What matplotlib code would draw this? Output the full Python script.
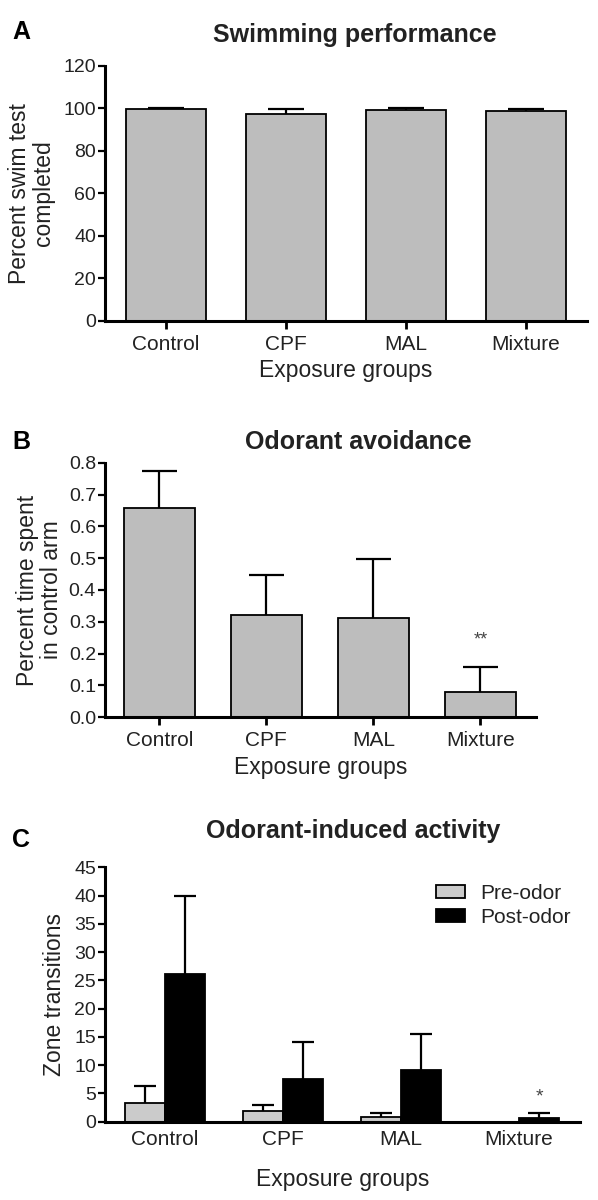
import matplotlib
matplotlib.use("Agg")
import matplotlib.pyplot as plt
import numpy as np

plt.rcParams["font.family"] = ["Liberation Sans", "DejaVu Sans"]

groups = ["Control", "CPF", "MAL", "Mixture"]

# A: swimming performance
swim_mean = [99.7, 97.5, 99.3, 98.9]
swim_err = [0.2, 2.2, 0.6, 0.6]

# B: odorant avoidance
avoid_mean = [0.659, 0.321, 0.313, 0.080]
avoid_err = [0.116, 0.127, 0.183, 0.079]

# C: odorant-induced activity
pre_mean = [3.3, 1.9, 0.8, 0.0]
pre_err = [3.0, 1.1, 0.7, np.nan]
post_mean = [26.2, 7.6, 9.1, 0.7]
post_err = [13.8, 6.5, 6.5, 0.8]

W, H = 598, 1200
TEXT = "#222222"
BAR_GREY = "#bdbdbd"
PRE_GREY = "#cbcbcb"

fig = plt.figure(figsize=(W / 100, H / 100), dpi=100)


def px_axes(left, right, top, bottom):
    return fig.add_axes([left / W, 1 - bottom / H, (right - left) / W, (bottom - top) / H])


def style(ax, xtick_len=6):
    for s in ("top", "right"):
        ax.spines[s].set_visible(False)
    for s in ("left", "bottom"):
        ax.spines[s].set_linewidth(2.2)
    ax.tick_params(axis="y", length=5, width=1.6, pad=1.5, labelsize=14, labelcolor=TEXT)
    ax.tick_params(axis="x", length=xtick_len, width=2.0, pad=4, labelsize=15, labelcolor=TEXT)


def upper_err(ax, x, mean, err, capsize):
    # upper half only, like the usual SEM bars
    err = np.asarray(err, dtype=float)
    _, caps, _ = ax.errorbar(x, mean, yerr=[np.zeros_like(err), err], fmt="none", ecolor="black",
                             elinewidth=1.6, capsize=capsize, capthick=1.6, zorder=3)
    caps[0].set_visible(False)


x = np.arange(len(groups))

# ---- panel A
ax = px_axes(105, 587, 65.7, 320.7)
ax.bar(x, swim_mean, width=0.667, color=BAR_GREY, edgecolor="black", linewidth=1.3, zorder=2)
upper_err(ax, x, swim_mean, swim_err, 13)
ax.set_xlim(-0.51, 3.51)
ax.set_ylim(0, 120)
ax.set_yticks(np.arange(0, 121, 20))
ax.set_xticks(x, groups)
style(ax)
ax.set_xlabel("Exposure groups", fontsize=16.5, color=TEXT, labelpad=4)
ax.set_ylabel("Percent swim test\ncompleted", fontsize=16.5, color=TEXT, linespacing=1.05)
ax.yaxis.set_label_coords(-0.104, 0.5)
fig.text(355 / W, 1 - 35 / H, "Swimming performance", ha="center", va="center",
         fontsize=18, fontweight="bold", color=TEXT)
fig.text(21 / W, 1 - 32 / H, "A", ha="center", va="center", fontsize=18,
         fontweight="bold", color="black")

# ---- panel B
ax = px_axes(105, 536, 462.7, 717.3)
ax.bar(x, avoid_mean, width=0.667, color=BAR_GREY, edgecolor="black", linewidth=1.3, zorder=2)
upper_err(ax, x, avoid_mean, avoid_err, 12.6)
ax.set_xlim(-0.508, 3.52)
ax.set_ylim(0, 0.8)
ax.set_yticks(np.arange(0, 0.81, 0.1))
ax.set_yticklabels([f"{v:.1f}" for v in np.arange(0, 0.81, 0.1)])
ax.set_xticks(x, groups)
style(ax)
ax.text(3, 0.243, "**", ha="center", va="center", fontsize=13, color="#444444")
ax.set_xlabel("Exposure groups", fontsize=16.5, color=TEXT, labelpad=4)
ax.set_ylabel("Percent time spent\nin control arm", fontsize=16.5, color=TEXT, linespacing=1.05)
ax.yaxis.set_label_coords(-0.097, 0.5)
fig.text(358 / W, 1 - 442 / H, "Odorant avoidance", ha="center", va="center",
         fontsize=18, fontweight="bold", color=TEXT)
fig.text(21 / W, 1 - 442 / H, "B", ha="center", va="center", fontsize=18,
         fontweight="bold", color="black")

# ---- panel C
ax = px_axes(105, 580, 867.3, 1121.7)
bw = 0.339
ax.bar(x - bw / 2, pre_mean, width=bw, color=PRE_GREY, edgecolor="black", linewidth=1.3,
       zorder=2, label="Pre-odor")
ax.bar(x + bw / 2, post_mean, width=bw, color="black", edgecolor="black", linewidth=1.3,
       zorder=2, label="Post-odor")
upper_err(ax, x - bw / 2, pre_mean, pre_err, 7.8)
upper_err(ax, x + bw / 2, post_mean, post_err, 7.8)
ax.set_xlim(-0.508, 3.517)
ax.set_ylim(0, 45)
ax.set_yticks(np.arange(0, 46, 5))
ax.set_xticks(x, groups)
style(ax, xtick_len=0)
ax.tick_params(axis="x", pad=6)
ax.text(3 + bw / 2, 4.4, "*", ha="center", va="center", fontsize=14, color="#444444")
ax.set_xlabel("Exposure groups", fontsize=16.5, color=TEXT, labelpad=14)
ax.set_ylabel("Zone transitions", fontsize=16.5, color=TEXT)
ax.yaxis.set_label_coords(-0.082, 0.5)
ax.legend(loc="upper left", bbox_to_anchor=((436 - 105) / 475, (1121.7 - 884) / 254.4),
          frameon=False, fontsize=15, borderpad=0, borderaxespad=0, handlelength=1.4,
          handleheight=0.6, handletextpad=0.7, labelspacing=0.25, labelcolor=TEXT)
fig.text(353 / W, 1 - 831 / H, "Odorant-induced activity", ha="center", va="center",
         fontsize=18, fontweight="bold", color=TEXT)
fig.text(21 / W, 1 - 840 / H, "C", ha="center", va="center", fontsize=18,
         fontweight="bold", color="black")

fig.savefig("out.png", dpi=100)
